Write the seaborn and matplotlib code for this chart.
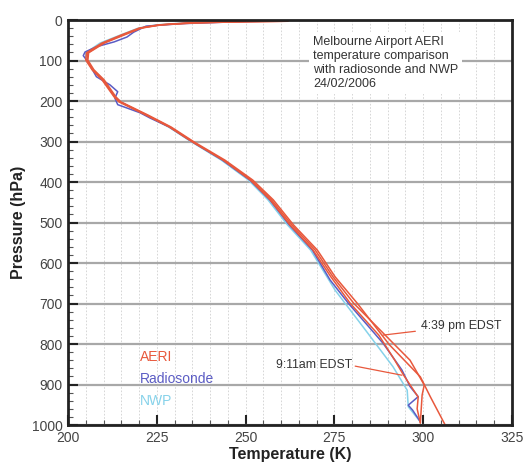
import numpy as np
import pandas as pd
import matplotlib
matplotlib.use("Agg")
import matplotlib.pyplot as plt
import seaborn as sns
from matplotlib.ticker import MultipleLocator

# profiles: pressure (hPa) and temperature (K)
aeri_am_p = [3, 4, 7, 12, 20, 37, 57, 81, 99, 123, 148, 190, 202, 235, 264, 301, 346, 395, 444, 506, 568, 634, 700, 778, 840, 877, 931, 960, 995]
aeri_am_t = [261.7, 250.0, 235.0, 225.9, 220.3, 215.5, 209.9, 205.6, 205.4, 207.0, 209.9, 213.2, 214.6, 222.3, 228.7, 235.2, 243.7, 251.3, 256.9, 262.5, 269.0, 274.0, 279.5, 287.5, 292.0, 294.5, 298.6, 298.3, 299.2]

aeri_mid_p = [3, 4, 7, 12, 20, 37, 57, 81, 99, 123, 148, 190, 202, 235, 264, 301, 346, 395, 444, 506, 568, 634, 700, 778, 840, 901, 926, 995]
aeri_mid_t = [261.0, 249.0, 234.0, 225.5, 220.0, 215.0, 209.5, 205.2, 205.0, 206.8, 209.6, 213.0, 214.3, 222.0, 228.5, 235.0, 243.8, 251.6, 257.3, 263.0, 269.6, 274.6, 280.5, 289.3, 296.3, 300.3, 299.7, 299.2]

aeri_pm_p = [3, 4, 7, 12, 20, 37, 57, 81, 99, 123, 148, 190, 202, 235, 264, 301, 346, 395, 444, 506, 568, 634, 700, 802, 881, 930, 1000]
aeri_pm_t = [262.0, 251.0, 236.0, 226.3, 220.6, 215.8, 210.2, 205.8, 205.6, 207.3, 210.2, 213.5, 214.9, 222.6, 229.0, 235.5, 244.2, 252.0, 257.8, 263.5, 270.2, 275.2, 281.5, 290.5, 299.2, 302.0, 306.2]

sonde_p = [3, 5, 9, 15, 30, 42, 54, 66, 79, 88, 103, 140, 160, 177, 193, 209, 229, 242, 264, 301, 346, 395, 444, 506, 568, 642, 700, 798, 864, 905, 930, 951, 963, 992]
sonde_t = [255.0, 245.0, 232.0, 222.0, 218.5, 216.6, 213.0, 208.0, 204.8, 204.3, 205.6, 208.0, 211.8, 214.0, 213.2, 214.0, 220.3, 223.1, 228.5, 235.0, 243.5, 251.2, 256.8, 262.3, 268.8, 273.8, 279.0, 288.7, 294.0, 296.3, 298.6, 295.8, 297.0, 299.2]

nwp_p = [3, 7, 12, 20, 37, 57, 81, 99, 123, 148, 190, 202, 235, 264, 301, 346, 395, 444, 506, 568, 667, 758, 856, 914, 955, 992]
nwp_t = [250.0, 233.0, 225.0, 219.8, 214.8, 209.0, 205.0, 205.0, 207.2, 210.0, 213.3, 214.8, 222.0, 228.3, 234.8, 243.2, 250.8, 256.3, 261.8, 268.3, 275.2, 283.1, 291.5, 295.5, 295.8, 299.2]

legend_names = ["AERI", "Radiosonde", "NWP"]
note_lines = ["Melbourne Airport AERI", "temperature comparison",
              "with radiosonde and NWP", "24/02/2006"]

red = "#e8583c"
blue = "#5b5cc4"
cyan = "#86d2ea"

sns.set_style("white")
plt.rcParams["font.family"] = ["Liberation Sans", "DejaVu Sans"]

fig = plt.figure(figsize=(5.25, 4.7), dpi=100)
ax = fig.add_axes([0.1295, 0.0957, 0.8457, 0.8617])

# grid
ax.xaxis.set_minor_locator(MultipleLocator(5))
ax.yaxis.set_minor_locator(MultipleLocator(20))
ax.xaxis.set_major_locator(MultipleLocator(25))
ax.yaxis.set_major_locator(MultipleLocator(100))
ax.grid(True, which="minor", axis="x", color="#d0d0d0", linestyle=(0, (2, 2)), linewidth=0.6)
ax.grid(True, which="major", axis="x", color="#d0d0d0", linestyle=(0, (2, 2)), linewidth=0.6)
ax.grid(True, which="major", axis="y", color="#a8a8a8", linewidth=1.6)
ax.set_axisbelow(True)

profiles = [
    (nwp_t, nwp_p, cyan),
    (sonde_t, sonde_p, blue),
    (aeri_am_t, aeri_am_p, red),
    (aeri_mid_t, aeri_mid_p, red),
    (aeri_pm_t, aeri_pm_p, red),
]
for t, p, c in profiles:
    sns.lineplot(x=t, y=p, sort=False, estimator=None, color=c, linewidth=1.1, ax=ax)

ax.set_xlim(200, 325)
ax.set_ylim(1000, 0)

for s in ax.spines.values():
    s.set_linewidth(2)
    s.set_color("#222222")

ax.tick_params(which="major", direction="in", length=7, width=1.5, color="#222222",
               labelsize=10, labelcolor="#444444", pad=4)
ax.tick_params(which="minor", direction="in", length=3.5, width=0.8, color="#555555")
ax.tick_params(axis="x", which="both", top=False, bottom=True)
ax.tick_params(axis="y", which="both", left=True, right=False)

ax.set_xlabel("Temperature (K)", fontsize=11.5, fontweight="bold", color="#222222", labelpad=2)
ax.set_ylabel("Pressure (hPa)", fontsize=11.5, fontweight="bold", color="#222222", labelpad=4)

# legend as coloured text
for name, c, yy in zip(legend_names, [red, blue, cyan], [833, 887, 940]):
    ax.text(220.2, yy, name, color=c, fontsize=10, va="center", ha="left")

# note box
ax.text(269.0, 40, "\n".join(note_lines), fontsize=9, color="#333333", va="top", ha="left",
        linespacing=1.2, bbox=dict(facecolor="white", edgecolor="none", pad=3))

# time annotations
ax.annotate("4:39 pm EDST", xy=(288.7, 778), xytext=(299.5, 755), fontsize=8.8,
            color="#333333", va="center", ha="left",
            arrowprops=dict(arrowstyle="-", color=red, linewidth=0.9, shrinkB=0))
ax.annotate("9:11am EDST", xy=(294.0, 877), xytext=(258.5, 853), fontsize=8.8,
            color="#333333", va="center", ha="left",
            arrowprops=dict(arrowstyle="-", color=red, linewidth=0.9, shrinkA=0, shrinkB=0,
                            relpos=(1, 0.5)))

fig.savefig("out.png", dpi=100)
